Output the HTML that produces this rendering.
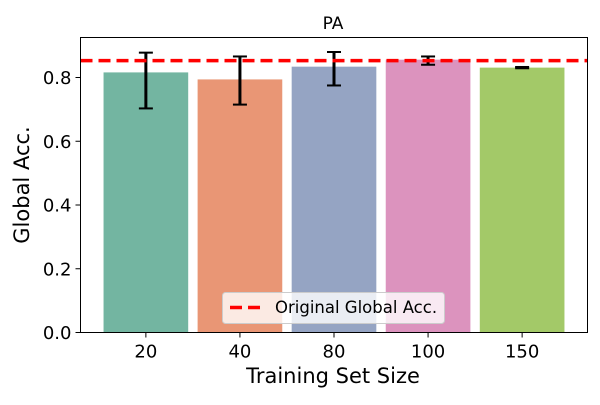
<!DOCTYPE html>
<html><head><meta charset="utf-8"><style>
body{margin:0;background:#fff;}
svg text{font-family:"DejaVu Sans","Liberation Sans",sans-serif;fill:#000;}
</style></head><body>
<svg id="chart" width="600" height="400" viewBox="0 0 600 400">
<text x="333" y="29" font-size="17" text-anchor="middle">PA</text>
<g id="bars"></g>
<g id="errs"></g>
<g id="yticks"></g>
<g id="xticks"></g>
<line id="refline" stroke="#ff0000" stroke-width="3.5" stroke-dasharray="12,6"/>
<rect x="80.5" y="37.5" width="507" height="295" fill="none" stroke="#000" stroke-width="1"/>
<text x="333" y="383" font-size="21" text-anchor="middle">Training Set Size</text>
<text transform="translate(29,185) rotate(-90)" font-size="21" text-anchor="middle">Global Acc.</text>
<g>
<rect x="222.5" y="292.5" width="222" height="31" rx="3" fill="#fff" fill-opacity="0.8" stroke="#ccc"/>
<line x1="230" y1="307.5" x2="264" y2="307.5" stroke="#ff0000" stroke-width="3.5" stroke-dasharray="12,6"/>
<text x="275" y="313" font-size="16.5">Original Global Acc.</text>
</g>
</svg>
<script>
const categories=["20","40","80","100","150"];
const values=[0.816,0.794,0.834,0.856,0.831];
const errLow=[0.703,0.715,0.775,0.840,0.829];
const errHigh=[0.878,0.866,0.880,0.866,0.833];
const refValue=0.853;
const yTicks=[0,0.2,0.4,0.6,0.8];
const colors=["#73b5a1","#e99675","#95a4c3","#dc93be","#a3c968"];
const NS="http://www.w3.org/2000/svg";
const x0=80.5,x1=587.5,yTop=37.5,yBot=332.5;
const xmin=-0.695,xmax=4.695,ymax=0.9255;
function xs(i){return x0+(i-xmin)/(xmax-xmin)*(x1-x0);}
function ys(v){return yBot-v/ymax*(yBot-yTop);}
const bw=(xs(0.9)-xs(0));
function mk(tag,attrs,parent){const e=document.createElementNS(NS,tag);for(const k in attrs)e.setAttribute(k,attrs[k]);document.getElementById(parent).appendChild(e);return e;}
categories.forEach((c,i)=>{
 const b=mk("rect",{x:xs(i)-bw/2,y:ys(values[i]),width:bw,height:yBot-ys(values[i]),fill:colors[i]},"bars");
 
 
 const g=mk("g",{stroke:"#000","stroke-width":3},"errs");
 
 
 const cx=xs(i);
 [[cx,ys(errLow[i]),cx,ys(errHigh[i])],[cx-7,ys(errLow[i]),cx+7,ys(errLow[i])],[cx-7,ys(errHigh[i]),cx+7,ys(errHigh[i])]].forEach(l=>{const e=document.createElementNS(NS,"line");e.setAttribute("x1",l[0]);e.setAttribute("y1",l[1]);e.setAttribute("x2",l[2]);e.setAttribute("y2",l[3]);e.setAttribute("stroke-width",l[1]===l[3]?2:3);g.appendChild(e);});
 mk("line",{x1:cx,x2:cx,y1:yBot,y2:yBot+5,stroke:"#000"},"xticks");
 const t=mk("text",{x:cx,y:yBot+25,"font-size":18,"text-anchor":"middle"},"xticks");
 t.textContent=c;
 
 
});
yTicks.forEach(v=>{
 const y=ys(v);
 mk("line",{x1:x0-5,x2:x0,y1:y,y2:y,stroke:"#000"},"yticks");
 const t=mk("text",{x:x0-9,y:y+6.5,"font-size":18,"text-anchor":"end"},"yticks");
 t.textContent=v.toFixed(1);
 
 
});
const rl=document.getElementById("refline");
rl.setAttribute("x1",x0);rl.setAttribute("x2",x1);rl.setAttribute("y1",ys(refValue));rl.setAttribute("y2",ys(refValue));
</script>
</body></html>
